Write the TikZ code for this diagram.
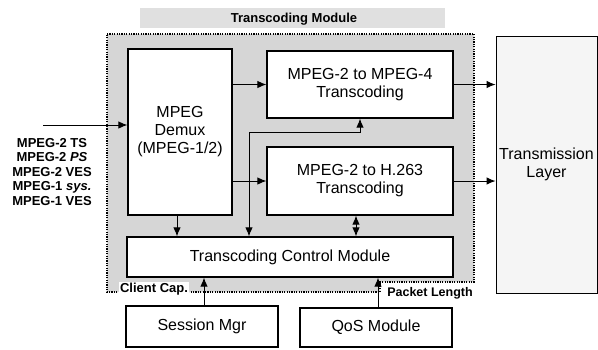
\documentclass[tikz,border=0pt]{standalone}
\usepackage{fontspec}
\setmainfont{Liberation Sans}
\usetikzlibrary{arrows.meta,calc}
\begin{document}
\begin{tikzpicture}[x=1pt,y=-1pt,
  box/.style={draw,line width=1.2pt,fill=white,inner sep=0pt,align=center,font=\fontsize{16}{18}\selectfont},
  arr/.style={line width=1pt,-{Latex[length=9pt,width=7.5pt]}},
  darr/.style={line width=1pt,{Latex[length=9pt,width=7.5pt]}-{Latex[length=9pt,width=7.5pt]}},
  dotline/.style={line width=1.3pt,dash pattern=on 1.2pt off 1.2pt},
  bfont/.style={font=\bfseries\fontsize{13}{14.5}\selectfont}]
\useasboundingbox (0,0) rectangle (598,349);
% title bar
\fill[gray!24] (140,8) rectangle (445,28);
\node[bfont] (title) at (294,19) {Transcoding Module};
% module outline
\draw[dotline,fill=gray!32] (107,34) -- (474,34) -- (474,282) -- (380,282) -- (380,292) -- (107,292) -- cycle;
% transmission layer
\node[box,fill=gray!8,line width=0.9pt,minimum width=101pt,minimum height=257pt] (trans) at (546.5,164.5) {Transmission\\Layer};
% boxes
\node[box,minimum width=104pt,minimum height=166pt] (demux) at (180,132) {MPEG\\Demux\\(MPEG-1/2)};
\node[box,minimum width=186pt,minimum height=67pt] (mpeg4) at (360,84.5) {MPEG-2 to MPEG-4\\Transcoding};
\node[box,minimum width=186pt,minimum height=68pt] (h263) at (360,181) {MPEG-2 to H.263\\Transcoding};
\node[box,minimum width=326pt,minimum height=40pt] (control) at (290,257) {Transcoding Control Module};
\node[box,minimum width=152pt,minimum height=41pt] (session) at (202,326.5) {Session Mgr};
\node[box,minimum width=152pt,minimum height=39pt] (qos) at (376,327.5) {QoS Module};
% labels
\node[bfont,align=center] (inputs) at (52,172) {MPEG-2 TS\\MPEG-2 \textit{PS}\\MPEG-2 VES\\MPEG-1 \textit{sys.}\\MPEG-1 VES};
\node[bfont,fill=white,inner sep=1pt] (cc) at (154,289) {Client Cap.};
\node[font=\bfseries\fontsize{12.5}{14}\selectfont] (pl) at (430,293) {Packet Length};
% connectors
\coordinate (in) at (43,125);
\draw[arr] (in) -- (in -| demux.west);
\draw[arr] (demux.east |- mpeg4) -- (mpeg4.west);
\draw[arr] (demux.east |- h263) -- (h263.west);
\draw[arr] (mpeg4.east) -- (mpeg4.east -| trans.west);
\draw[arr] (h263.east) -- (h263.east -| trans.west);
\draw[arr] ([xshift=-3pt]demux.south) -- ([xshift=-3pt]demux.south |- control.north);
\draw[darr] ([xshift=-41pt]control.north) -- ++(0,-104) -| (mpeg4.south);
\draw[darr] ([xshift=-4pt]h263.south) -- ([xshift=-4pt]h263.south |- control.north);
\draw[arr] ([xshift=2pt]session.north) -- ([xshift=2pt]session.north |- control.south);
\draw[arr] ([xshift=2pt]qos.north) -- ([xshift=2pt]qos.north |- control.south);
\end{tikzpicture}
\end{document}
